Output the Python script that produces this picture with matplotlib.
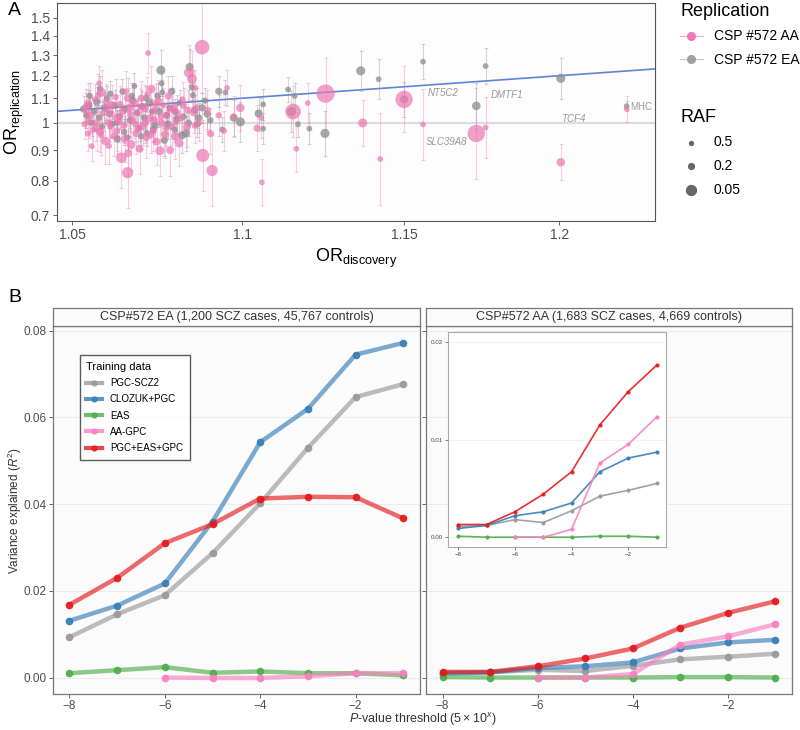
"""
Replication ORs (A) and PRS variance explained (B)
"""

import numpy as np
import matplotlib.pyplot as plt
from matplotlib.lines import Line2D

plt.rcParams['font.family'] = ['Liberation Sans', 'DejaVu Sans']
plt.rcParams['mathtext.fontset'] = 'custom'
plt.rcParams['mathtext.rm'] = 'Liberation Sans'
plt.rcParams['mathtext.it'] = 'Liberation Sans:italic'

# ---- panel A data: discovery OR, replication OR, risk allele freq, se(log OR)
aa_disc = [1.0535, 1.0540, 1.0545, 1.0548, 1.0555, 1.0560, 1.0565, 1.0570, 1.0577, 1.0580,
           1.0585, 1.0590, 1.0595, 1.0600, 1.0605, 1.0610, 1.0615, 1.0620, 1.0625, 1.0630,
           1.0642, 1.0645, 1.0650, 1.0655, 1.0660, 1.0662, 1.0665, 1.0670, 1.0675, 1.0680,
           1.0685, 1.0690, 1.0695, 1.0700, 1.0705, 1.0710, 1.0715, 1.0720, 1.0725, 1.0730,
           1.0735, 1.0740, 1.0745, 1.0750, 1.0755, 1.0760, 1.0765, 1.0770, 1.0775, 1.0780,
           1.0785, 1.0790, 1.0795, 1.0800, 1.0805, 1.0812, 1.0818, 1.0825, 1.0835, 1.0842,
           1.0850, 1.0855, 1.0860, 1.0865, 1.0870, 1.0880, 1.0882, 1.0895, 1.0905, 1.0910,
           1.0930, 1.0945, 1.0955, 1.0975, 1.0995, 1.1045, 1.1058, 1.1060, 1.1155, 1.1165,
           1.1200, 1.1255, 1.1370, 1.1425, 1.1500, 1.1560, 1.1730, 1.1760, 1.2005, 1.2224,
           1.0538, 1.0552, 1.0568, 1.0583, 1.0598, 1.0612, 1.0628, 1.0638, 1.0652, 1.0668,
           1.0683, 1.0698, 1.0712, 1.0728, 1.0743, 1.0758, 1.0773, 1.0788, 1.0803, 1.0822,
           1.0838, 1.0858, 1.0545, 1.0575, 1.0605, 1.0635, 1.0660, 1.0690, 1.0718, 1.0738]
aa_rep = [0.995, 1.050, 1.078, 1.010, 0.914, 0.975, 1.095, 0.978, 1.165, 0.966,
          1.125, 1.040, 0.933, 1.060, 1.000, 0.985, 1.070, 0.950, 1.105, 1.020,
          0.874, 1.045, 0.990, 1.130, 0.825, 0.890, 1.060, 0.920, 1.010, 1.080,
          0.960, 1.040, 0.905, 1.100, 0.985, 1.060, 0.945, 1.310, 1.020, 1.140,
          0.970, 1.050, 0.930, 1.090, 0.898, 1.000, 1.070, 0.955, 1.030, 1.110,
          0.900, 0.985, 1.060, 0.950, 1.040, 0.925, 1.020, 1.070, 0.985, 1.215,
          1.185, 1.040, 1.145, 1.060, 1.000, 1.340, 0.882, 1.050, 0.960, 0.832,
          1.030, 0.970, 1.145, 1.025, 1.060, 0.980, 1.020, 0.795, 1.045, 0.905,
          1.080, 1.120, 1.000, 0.870, 1.095, 0.994, 0.960, 0.982, 0.859, 1.055,
          1.065, 1.030, 1.000, 0.955, 1.085, 1.040, 0.970, 1.075, 0.940, 1.035,
          0.995, 1.065, 1.000, 0.955, 1.075, 1.025, 0.980, 1.055, 1.005, 1.095,
          1.050, 0.990, 0.960, 1.115, 0.915, 1.005, 1.100, 0.975, 1.115, 1.010]
aa_raf = [0.3, 0.2, 0.15, 0.2, 0.4, 0.3, 0.3, 0.15, 0.4, 0.15,
          0.12, 0.2, 0.12, 0.25, 0.2, 0.3, 0.15, 0.2, 0.3, 0.1,
          0.06, 0.2, 0.25, 0.3, 0.05, 0.15, 0.15, 0.1, 0.2, 0.15,
          0.2, 0.3, 0.15, 0.2, 0.25, 0.1, 0.2, 0.4, 0.15, 0.12,
          0.2, 0.25, 0.15, 0.2, 0.1, 0.2, 0.3, 0.15, 0.2, 0.2,
          0.15, 0.25, 0.15, 0.12, 0.2, 0.12, 0.2, 0.25, 0.15, 0.06,
          0.08, 0.2, 0.4, 0.2, 0.25, 0.02, 0.03, 0.2, 0.2, 0.05,
          0.3, 0.3, 0.4, 0.3, 0.12, 0.2, 0.4, 0.4, 0.015, 0.4,
          0.4, 0.008, 0.1, 0.4, 0.01, 0.4, 0.01, 0.4, 0.12, 0.4,
          0.3, 0.25, 0.2, 0.25, 0.2, 0.3, 0.2, 0.3, 0.15, 0.25,
          0.25, 0.3, 0.2, 0.25, 0.2, 0.25, 0.3, 0.2, 0.3, 0.3,
          0.2, 0.3, 0.3, 0.25, 0.3, 0.2, 0.2, 0.2, 0.3, 0.2]
aa_se = [0.030, 0.035, 0.040, 0.035, 0.030, 0.035, 0.030, 0.045, 0.035, 0.040,
         0.045, 0.035, 0.045, 0.030, 0.035, 0.030, 0.040, 0.040, 0.035, 0.045,
         0.060, 0.035, 0.035, 0.040, 0.070, 0.045, 0.040, 0.050, 0.035, 0.040,
         0.040, 0.030, 0.050, 0.035, 0.035, 0.045, 0.040, 0.040, 0.040, 0.045,
         0.040, 0.035, 0.045, 0.040, 0.050, 0.035, 0.035, 0.045, 0.035, 0.040,
         0.050, 0.035, 0.040, 0.045, 0.035, 0.045, 0.040, 0.035, 0.040, 0.055,
         0.055, 0.040, 0.035, 0.040, 0.035, 0.090, 0.070, 0.040, 0.040, 0.070,
         0.040, 0.040, 0.035, 0.040, 0.045, 0.045, 0.040, 0.045, 0.050, 0.045,
         0.040, 0.070, 0.045, 0.090, 0.065, 0.070, 0.090, 0.060, 0.035, 0.025,
         0.035, 0.035, 0.035, 0.040, 0.035, 0.035, 0.040, 0.035, 0.045, 0.035,
         0.035, 0.035, 0.040, 0.035, 0.040, 0.035, 0.035, 0.040, 0.035, 0.035,
         0.040, 0.035, 0.035, 0.040, 0.035, 0.040, 0.040, 0.040, 0.035, 0.040]

ea_disc = [1.0532, 1.0540, 1.0548, 1.0555, 1.0562, 1.0570, 1.0577, 1.0585, 1.0592, 1.0600,
           1.0607, 1.0615, 1.0622, 1.0630, 1.0637, 1.0645, 1.0652, 1.0660, 1.0667, 1.0675,
           1.0680, 1.0688, 1.0695, 1.0702, 1.0710, 1.0717, 1.0725, 1.0732, 1.0740, 1.0748,
           1.0758, 1.0760, 1.0762, 1.0768, 1.0775, 1.0783, 1.0790, 1.0798, 1.0805, 1.0813,
           1.0820, 1.0832, 1.0840, 1.0843, 1.0850, 1.0852, 1.0858, 1.0870, 1.0880, 1.0895,
           1.0905, 1.0930, 1.0950, 1.0940, 1.0975, 1.0995, 1.1050, 1.1064, 1.1064, 1.1140,
           1.1150, 1.1160, 1.1170, 1.1205, 1.1253, 1.1364, 1.1420, 1.1500, 1.1560, 1.1730,
           1.1760, 1.2005, 1.2224, 1.0550, 1.0580, 1.0610, 1.0628, 1.0650, 1.0672, 1.0700,
           1.0715, 1.0735, 1.0753, 1.0778, 1.0800, 1.0825, 1.0865, 1.0888]
ea_rep = [1.055, 1.030, 1.070, 1.000, 1.045, 1.085, 1.020, 0.985, 1.060, 1.100,
          1.035, 0.995, 1.070, 0.940, 1.025, 1.130, 1.055, 0.945, 1.010, 1.090,
          1.153, 1.040, 0.980, 1.065, 1.020, 0.960, 1.080, 1.045, 0.990, 1.110,
          1.226, 1.165, 1.125, 0.935, 1.030, 1.060, 1.130, 0.975, 1.015, 1.080,
          0.953, 0.960, 1.000, 1.242, 1.147, 1.113, 1.050, 1.020, 1.060, 1.035,
          1.010, 1.130, 1.125, 0.975, 1.020, 1.004, 1.037, 1.074, 0.978, 1.138,
          1.045, 1.110, 0.995, 0.978, 0.960, 1.223, 1.184, 1.095, 1.267, 1.068,
          1.246, 1.188, 1.067, 1.110, 1.140, 1.120, 1.000, 0.965, 1.110, 0.950,
          1.100, 0.975, 1.045, 0.995, 1.045, 1.025, 0.995, 1.090]
ea_raf = [0.2, 0.3, 0.2, 0.3, 0.25, 0.2, 0.3, 0.3, 0.2, 0.3,
          0.25, 0.3, 0.2, 0.2, 0.25, 0.3, 0.2, 0.3, 0.2, 0.2,
          0.4, 0.25, 0.3, 0.2, 0.25, 0.3, 0.2, 0.3, 0.2, 0.25,
          0.1, 0.4, 0.4, 0.2, 0.25, 0.3, 0.2, 0.3, 0.2, 0.3,
          0.15, 0.15, 0.25, 0.15, 0.3, 0.4, 0.2, 0.2, 0.2, 0.2,
          0.3, 0.2, 0.4, 0.4, 0.15, 0.1, 0.15, 0.4, 0.4, 0.4,
          0.1, 0.4, 0.4, 0.4, 0.1, 0.1, 0.4, 0.15, 0.4, 0.12,
          0.4, 0.1, 0.4, 0.3, 0.3, 0.3, 0.3, 0.3, 0.3, 0.3,
          0.25, 0.25, 0.2, 0.2, 0.25, 0.3, 0.3, 0.3]
ea_se = [0.025, 0.025, 0.030, 0.025, 0.025, 0.030, 0.025, 0.025, 0.030, 0.025,
         0.025, 0.025, 0.030, 0.030, 0.025, 0.025, 0.030, 0.025, 0.030, 0.030,
         0.025, 0.025, 0.025, 0.030, 0.025, 0.025, 0.030, 0.025, 0.030, 0.025,
         0.040, 0.025, 0.025, 0.030, 0.025, 0.025, 0.030, 0.025, 0.030, 0.025,
         0.035, 0.035, 0.025, 0.035, 0.025, 0.025, 0.030, 0.030, 0.030, 0.030,
         0.025, 0.030, 0.025, 0.025, 0.035, 0.040, 0.035, 0.030, 0.030, 0.025,
         0.040, 0.025, 0.025, 0.030, 0.045, 0.040, 0.040, 0.035, 0.035, 0.045,
         0.035, 0.040, 0.010, 0.025, 0.025, 0.025, 0.025, 0.025, 0.025, 0.025,
         0.025, 0.025, 0.030, 0.030, 0.025, 0.025, 0.025, 0.025]

gene_labels = ['NT5C2', 'DMTF1', 'TCF4', 'SLC39A8', 'MHC']
gene_x = [1.1625, 1.1830, 1.2045, 1.1635, 1.2236]
gene_y = [1.123, 1.113, 1.014, 0.929, 1.064]

raf_legend = [0.5, 0.2, 0.05]

# ---- panel B data
thresholds = [-8, -7, -6, -5, -4, -3, -2, -1]
training = ['PGC-SCZ2', 'CLOZUK+PGC', 'EAS', 'AA-GPC', 'PGC+EAS+GPC']
r2_ea = {
    'PGC-SCZ2':    [0.0093, 0.0146, 0.0190, 0.0287, 0.0402, 0.0530, 0.0647, 0.0677],
    'CLOZUK+PGC':  [0.0131, 0.0166, 0.0217, 0.0360, 0.0543, 0.0620, 0.0745, 0.0772],
    'EAS':         [0.0010, 0.0017, 0.0024, 0.0011, 0.0014, 0.0010, 0.0010, 0.0005],
    'AA-GPC':      [np.nan, np.nan, 0.0000, -0.0001, -0.0001, 0.0003, 0.0010, 0.0010],
    'PGC+EAS+GPC': [0.0168, 0.0230, 0.0310, 0.0354, 0.0413, 0.0417, 0.0416, 0.0367],
}
r2_aa = {
    'PGC-SCZ2':    [0.0011, 0.0012, 0.0018, 0.0015, 0.0027, 0.0042, 0.0048, 0.0055],
    'CLOZUK+PGC':  [0.0009, 0.0012, 0.0022, 0.0026, 0.0035, 0.0067, 0.0081, 0.0087],
    'EAS':         [0.0001, 0.0000, 0.0000, 0.0000, 0.0000, 0.0001, 0.0001, 0.0000],
    'AA-GPC':      [np.nan, np.nan, 0.0000, 0.0000, 0.0008, 0.0076, 0.0095, 0.0123],
    'PGC+EAS+GPC': [0.0013, 0.0013, 0.0026, 0.0044, 0.0067, 0.0115, 0.0149, 0.0176],
}
colors = {'PGC-SCZ2': '#999999', 'CLOZUK+PGC': '#377EB8', 'EAS': '#4DAF4A',
          'AA-GPC': '#F781BF', 'PGC+EAS+GPC': '#E41A1C'}
facet_titles = ['CSP#572 EA (1,200 SCZ cases, 45,767 controls)',
                'CSP#572 AA (1,683 SCZ cases, 4,669 controls)']

PINK = '#EC78B5'
GREY_PT = '#8C8C8C'
TXT = '#4D4D4D'


def raf_size(raf):
    d_px = 4.6 + 4.5 * (-np.log10(np.asarray(raf))) ** 1.5
    return (d_px * 0.72) ** 2


fig = plt.figure(figsize=(8, 7.3), dpi=100)

# ================= Panel A =================
axA = fig.add_axes([0.071, 0.697, 0.748, 0.299])
axA.set_xscale('log')
axA.set_yscale('log')
axA.set_facecolor('#FDFDFD')

axA.axhline(1, color='#DDDDDD', lw=1.6, zorder=1)
xx = np.array([1.0455, 1.232])
axA.plot(xx, xx, color='#5B86D6', lw=1.2, zorder=2)   # y = x

for disc, rep, raf, se, col, a in [(ea_disc, ea_rep, ea_raf, ea_se, GREY_PT, 0.75),
                                   (aa_disc, aa_rep, aa_raf, aa_se, PINK, 0.7)]:
    disc = np.array(disc)
    rep = np.array(rep)
    se = np.array(se)
    lo = rep - np.exp(np.log(rep) - 1.96 * se)
    hi = np.exp(np.log(rep) + 1.96 * se) - rep
    axA.errorbar(disc, rep, yerr=[lo, hi], fmt='none', ecolor=col, alpha=0.35,
                 elinewidth=0.8, capsize=1.5, capthick=0.8, zorder=3)
    axA.scatter(disc, rep, s=raf_size(raf), color=col, alpha=a, lw=0, zorder=4)

for g, gx, gy in zip(gene_labels, gene_x, gene_y):
    axA.text(gx, gy, g, fontsize=7, color='#999999',
             ha='left' if g == 'MHC' else 'center', va='center',
             style='normal' if g == 'MHC' else 'italic', zorder=5)

axA.set_xlim(1.0455, 1.232)
axA.set_ylim(0.684, 1.59)
axA.set_xticks([1.05, 1.1, 1.15, 1.2])
axA.set_xticklabels(['1.05', '1.1', '1.15', '1.2'])
yt = [0.7, 0.8, 0.9, 1, 1.1, 1.2, 1.3, 1.4, 1.5]
axA.set_yticks(yt)
axA.set_yticklabels(['0.7', '0.8', '0.9', '1', '1.1', '1.2', '1.3', '1.4', '1.5'])
axA.minorticks_off()
axA.tick_params(labelsize=10, colors=TXT, length=3, width=0.6, pad=2)
for sp in axA.spines.values():
    sp.set_color('#555555')
    sp.set_linewidth(0.8)
axA.set_xlabel('OR$_{\\mathrm{discovery}}$', fontsize=13, labelpad=3)
axA.set_ylabel('OR$_{\\mathrm{replication}}$', fontsize=13, labelpad=3)

# legends for A
h_rep = [Line2D([0], [0], color='#F3AFD2', marker='o', ms=5.5,
                mfc=PINK, mec=PINK, lw=0.8),
         Line2D([0], [0], color='#C8C8C8', marker='o', ms=5.5,
                mfc='#A0A0A0', mec='#A0A0A0', lw=0.8)]
fig.legend(h_rep, ['CSP #572 AA', 'CSP #572 EA'], title='Replication',
           loc='upper left', bbox_to_anchor=(0.847, 1.0), frameon=False,
           fontsize=10, title_fontsize=13, handlelength=1.6, handletextpad=0.8,
           labelspacing=0.7, alignment='left', borderpad=0.2, borderaxespad=0)
h_raf = [plt.scatter([], [], s=raf_size(r), color='#555555', lw=0, alpha=0.9)
         for r in raf_legend]
fig.legend(h_raf, [str(r) for r in raf_legend], title='RAF',
           loc='upper left', bbox_to_anchor=(0.847, 0.855), frameon=False,
           fontsize=10, title_fontsize=13, handlelength=1.6, handletextpad=0.8,
           labelspacing=0.7, alignment='left', borderpad=0.2, borderaxespad=0)

fig.text(0.01, 0.986, 'A', fontsize=14, va='center')
fig.text(0.01, 0.593, 'B', fontsize=14, va='center')

# ================= Panel B =================
pos = [[0.066, 0.0493, 0.459, 0.5041], [0.5325, 0.0493, 0.4575, 0.5041]]
for k, (data, ttl) in enumerate([(r2_ea, facet_titles[0]), (r2_aa, facet_titles[1])]):
    ax = fig.add_axes(pos[k])
    ax.set_facecolor('#FBFBFB')
    ax.set_xlim(-8.35, -0.65)
    ax.set_ylim(-0.0038, 0.0811)
    ax.set_yticks([0, 0.02, 0.04, 0.06, 0.08])
    ax.set_xticks([-8, -6, -4, -2])
    ax.grid(axis='y', color='#ECECEC', lw=0.8)
    ax.set_axisbelow(True)
    for t in training:
        ax.plot(thresholds, data[t], color=colors[t], lw=3.2, alpha=0.65,
                solid_capstyle='round')
        ax.plot(thresholds, data[t], 'o', color=colors[t], ms=4.5, alpha=0.9)
    ax.tick_params(labelsize=8.5, colors=TXT, length=3, width=0.6, pad=1.5)
    if k == 0:
        ax.set_yticklabels(['0.00', '0.02', '0.04', '0.06', '0.08'])
        ax.legend([Line2D([0], [0], color=colors[t], lw=3, marker='o', ms=3.5,
                          alpha=0.8) for t in training],
                  training, title='Training data', loc='upper left',
                  bbox_to_anchor=(0.06, 0.935), fontsize=7, title_fontsize=8,
                  frameon=True, fancybox=False, edgecolor='#333333',
                  handlelength=1.6, labelspacing=0.65, alignment='left',
                  borderpad=0.7)
    else:
        ax.set_yticklabels([])
    for sp in ax.spines.values():
        sp.set_color('#777777')
        sp.set_linewidth(0.9)
    # facet strip
    strip = fig.add_axes([pos[k][0], 0.5534, pos[k][2], 0.0246])
    strip.set_facecolor('#FBFBFB')
    strip.set_xticks([])
    strip.set_yticks([])
    for sp in strip.spines.values():
        sp.set_color('#777777')
        sp.set_linewidth(0.9)
    strip.text(0.5, 0.5, ttl, ha='center', va='center', fontsize=9, color='#333333')

fig.text(0.019, 0.3, 'Variance explained ($R^2$)', rotation=90, ha='center',
         va='center', fontsize=8.5, color='#333333')
fig.text(0.528, 0.003, '$P$-value threshold ($5\\times10^{x}$)', ha='center',
         va='bottom', fontsize=9, color='#333333')

# inset with AA results zoomed in
axI = fig.add_axes([0.56, 0.251, 0.272, 0.294])
axI.set_facecolor('white')
for t in training:
    axI.plot(thresholds, r2_aa[t], color=colors[t], lw=1.2, alpha=0.9)
    axI.plot(thresholds, r2_aa[t], 'o', color=colors[t], ms=2, alpha=0.9)
axI.set_xlim(-8.36, -0.68)
axI.set_ylim(-0.00098, 0.021)
axI.set_xticks([-8, -6, -4, -2])
axI.set_yticks([0, 0.01, 0.02])
axI.set_yticklabels(['0.00', '0.01', '0.02'])
axI.grid(axis='y', color='#F0F0F0', lw=0.6)
axI.set_axisbelow(True)
axI.tick_params(labelsize=4.5, colors=TXT, length=2, width=0.5, pad=1.5)
for sp in axI.spines.values():
    sp.set_color('#AAAAAA')
    sp.set_linewidth(0.8)

fig.savefig('out.png', dpi=100)
